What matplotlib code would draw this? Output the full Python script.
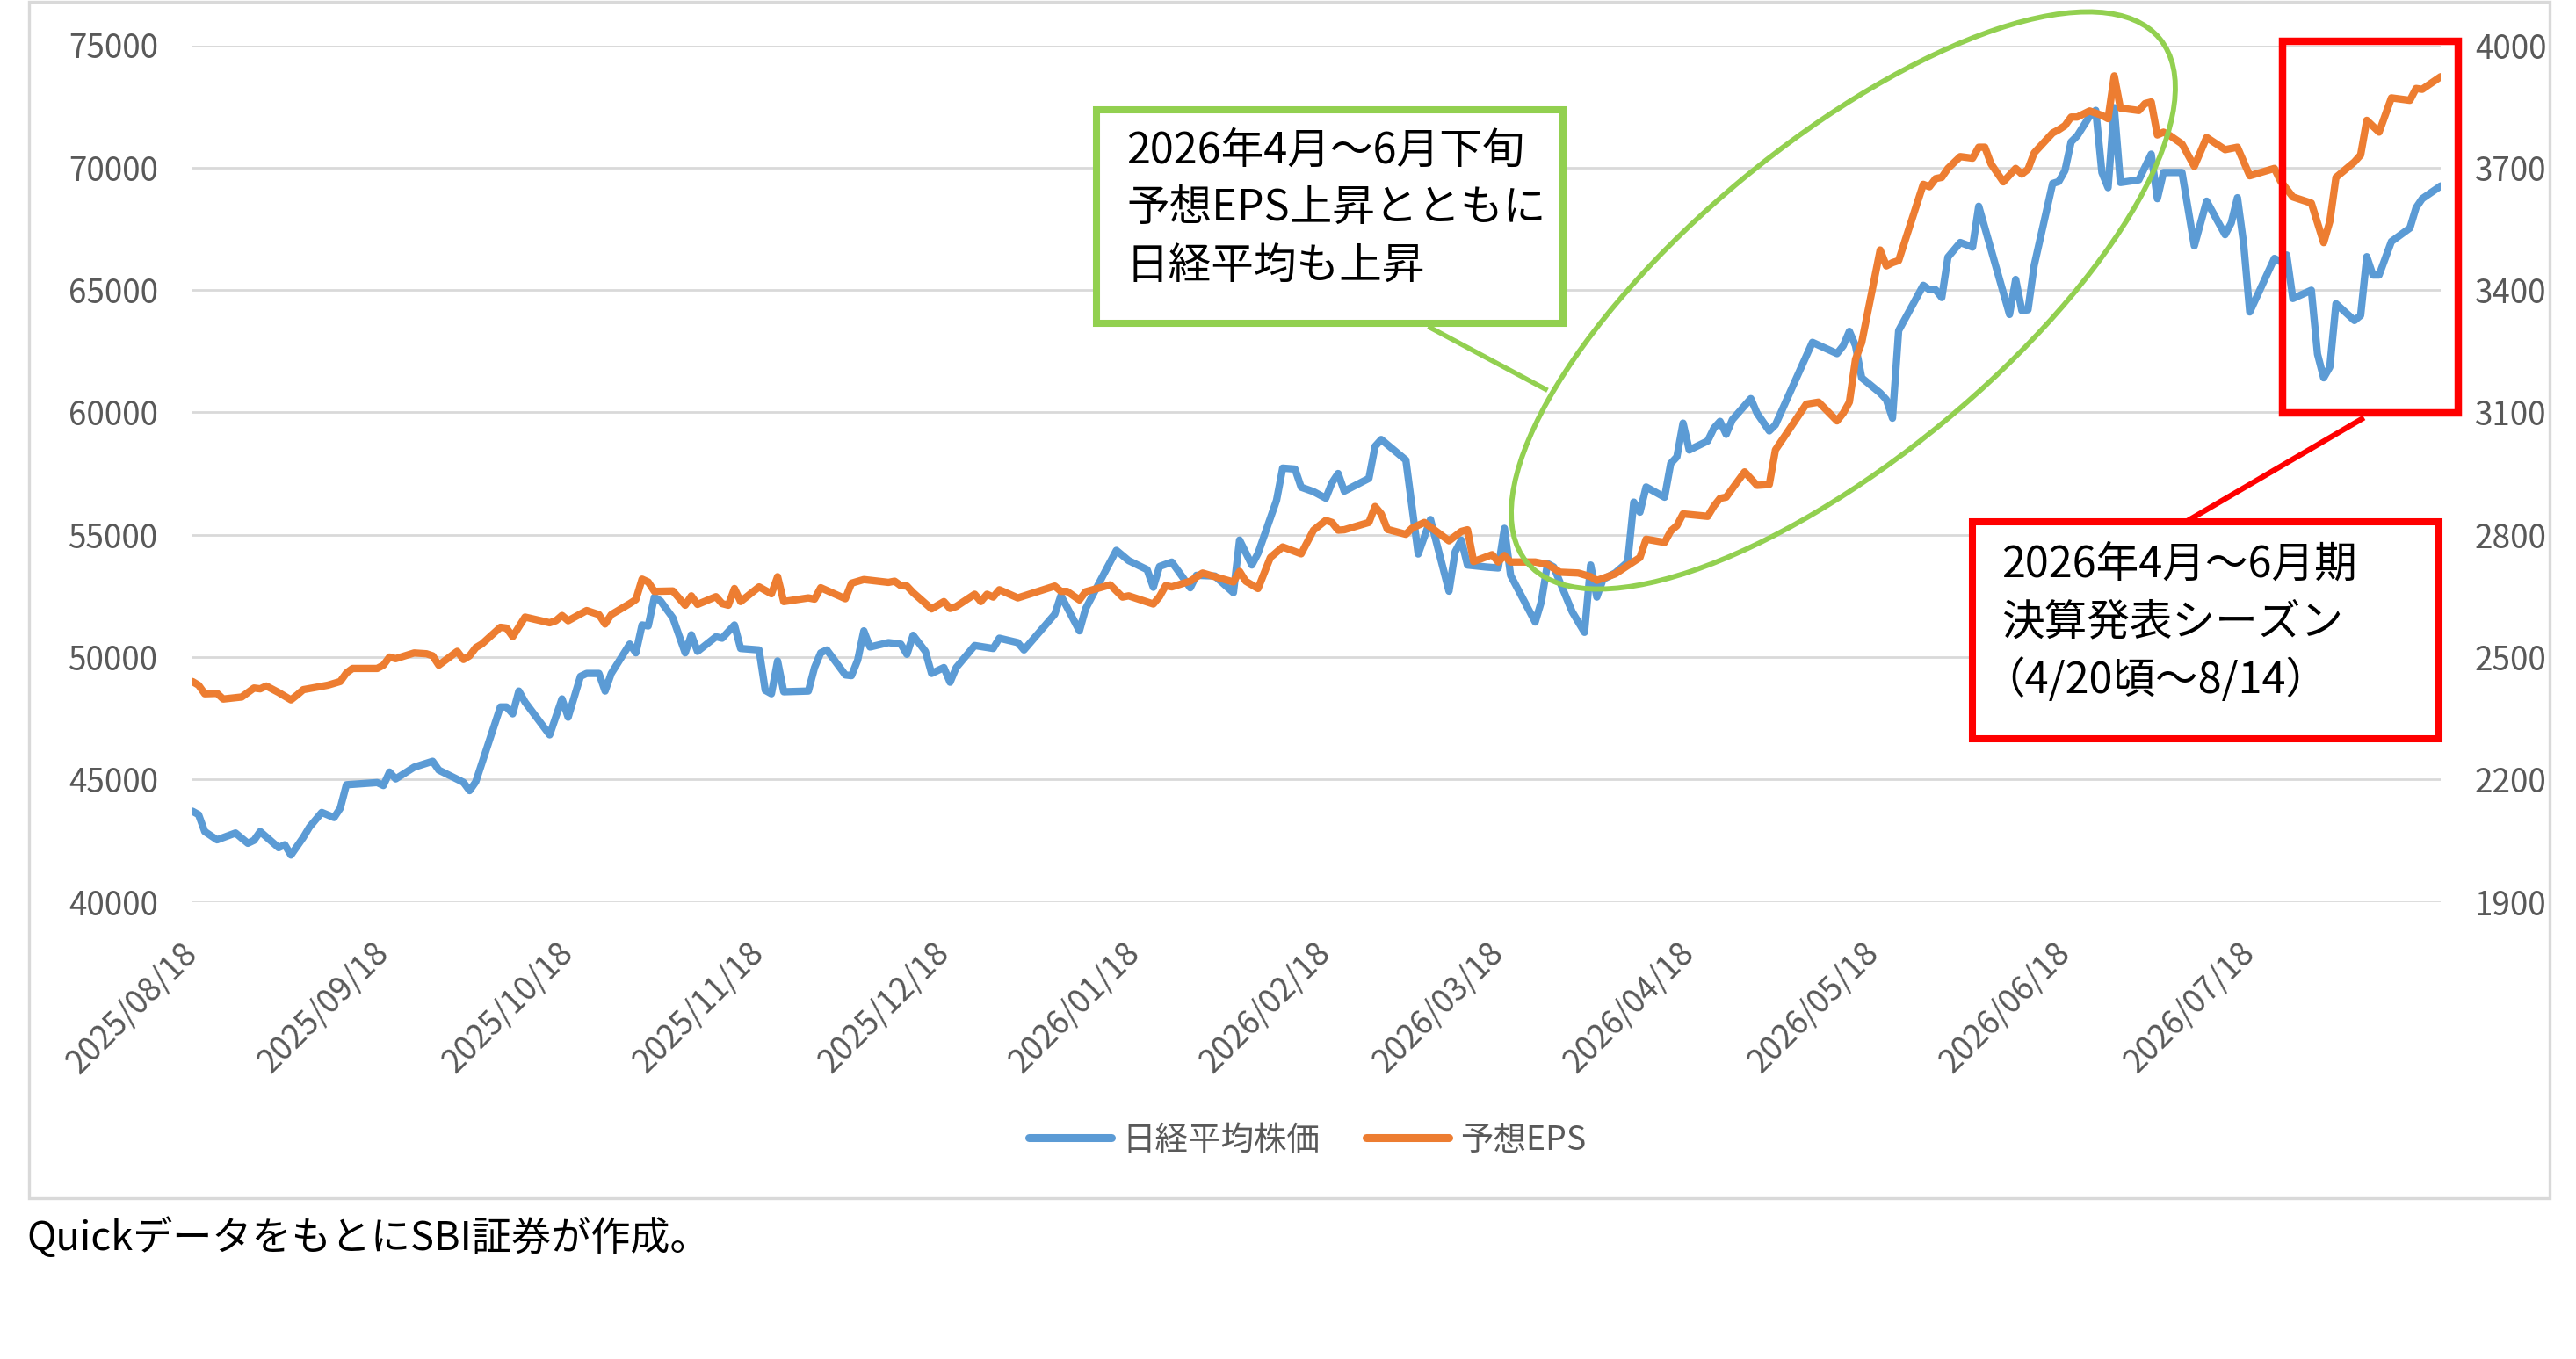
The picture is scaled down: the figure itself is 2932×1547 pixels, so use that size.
import pandas as pd
import matplotlib
matplotlib.use("Agg")
import matplotlib.pyplot as plt
from matplotlib.patches import Ellipse, Rectangle
from matplotlib.lines import Line2D

plt.rcParams['font.family'] = ['Noto Sans CJK JP', 'DejaVu Sans']

# 日経平均株価 (左軸)
nikkei_dates = [
    '2025-08-18', '2025-08-19', '2025-08-20', '2025-08-22', '2025-08-25', '2025-08-27', '2025-08-28', '2025-08-29',
    '2025-09-01', '2025-09-02', '2025-09-03', '2025-09-05', '2025-09-06', '2025-09-08', '2025-09-10', '2025-09-11',
    '2025-09-12', '2025-09-17', '2025-09-18', '2025-09-19', '2025-09-20', '2025-09-23', '2025-09-26', '2025-09-27',
    '2025-10-01', '2025-10-02', '2025-10-03', '2025-10-07', '2025-10-08', '2025-10-09', '2025-10-10', '2025-10-11',
    '2025-10-15', '2025-10-17', '2025-10-18', '2025-10-20', '2025-10-21', '2025-10-23', '2025-10-24', '2025-10-25',
    '2025-10-28', '2025-10-29', '2025-10-30', '2025-10-31', '2025-11-01', '2025-11-02', '2025-11-04', '2025-11-06',
    '2025-11-07', '2025-11-08', '2025-11-11', '2025-11-12', '2025-11-14', '2025-11-15', '2025-11-18', '2025-11-19',
    '2025-11-20', '2025-11-21', '2025-11-22', '2025-11-26', '2025-11-27', '2025-11-28', '2025-11-29', '2025-12-02',
    '2025-12-03', '2025-12-04', '2025-12-05', '2025-12-06', '2025-12-09', '2025-12-11', '2025-12-12', '2025-12-13',
    '2025-12-15', '2025-12-16', '2025-12-18', '2025-12-19', '2025-12-20', '2025-12-23', '2025-12-24', '2025-12-26',
    '2025-12-27', '2025-12-30', '2025-12-31', '2026-01-05', '2026-01-06', '2026-01-09', '2026-01-10', '2026-01-13',
    '2026-01-15', '2026-01-17', '2026-01-20', '2026-01-21', '2026-01-22', '2026-01-24', '2026-01-27', '2026-01-28',
    '2026-01-31', '2026-02-03', '2026-02-04', '2026-02-06', '2026-02-07', '2026-02-10', '2026-02-11', '2026-02-13',
    '2026-02-14', '2026-02-16', '2026-02-18', '2026-02-19', '2026-02-20', '2026-02-21', '2026-02-25', '2026-02-26',
    '2026-02-27', '2026-03-03', '2026-03-05', '2026-03-07', '2026-03-10', '2026-03-11', '2026-03-12', '2026-03-13',
    '2026-03-16', '2026-03-18', '2026-03-19', '2026-03-20', '2026-03-24', '2026-03-25', '2026-03-26', '2026-03-27',
    '2026-03-30', '2026-04-01', '2026-04-02', '2026-04-03', '2026-04-04', '2026-04-06', '2026-04-08', '2026-04-09',
    '2026-04-10', '2026-04-11', '2026-04-14', '2026-04-15', '2026-04-16', '2026-04-17', '2026-04-18', '2026-04-21',
    '2026-04-22', '2026-04-23', '2026-04-24', '2026-04-25', '2026-04-28', '2026-04-29', '2026-05-01', '2026-05-02',
    '2026-05-08', '2026-05-12', '2026-05-13', '2026-05-14', '2026-05-15', '2026-05-16', '2026-05-19', '2026-05-20',
    '2026-05-21', '2026-05-22', '2026-05-26', '2026-05-27', '2026-05-28', '2026-05-29', '2026-05-30', '2026-06-01',
    '2026-06-03', '2026-06-04', '2026-06-09', '2026-06-10', '2026-06-11', '2026-06-12', '2026-06-13', '2026-06-16',
    '2026-06-17', '2026-06-18', '2026-06-19', '2026-06-20', '2026-06-22', '2026-06-23', '2026-06-24', '2026-06-25',
    '2026-06-26', '2026-06-27', '2026-06-30', '2026-07-02', '2026-07-03', '2026-07-04', '2026-07-07', '2026-07-09',
    '2026-07-11', '2026-07-14', '2026-07-15', '2026-07-16', '2026-07-17', '2026-07-18', '2026-07-22', '2026-07-23',
    '2026-07-24', '2026-07-25', '2026-07-28', '2026-07-29', '2026-07-30', '2026-07-31', '2026-08-01', '2026-08-04',
    '2026-08-05', '2026-08-06', '2026-08-07', '2026-08-08', '2026-08-10', '2026-08-13', '2026-08-14', '2026-08-15',
    '2026-08-18',
]
nikkei = [
    43700, 43560, 42870, 42530, 42810, 42390, 42510, 42870,
    42210, 42330, 41910, 42630, 43050, 43650, 43440, 43820,
    44780, 44870, 44750, 45300, 45020, 45500, 45740, 45380,
    44880, 44540, 44900, 47960, 47960, 47680, 48610, 48160,
    46820, 48290, 47540, 49210, 49330, 49330, 48610, 49330,
    50530, 50170, 51310, 51270, 52450, 52290, 51600, 50170,
    50910, 50230, 50830, 50770, 51310, 50350, 50290, 48640,
    48500, 49840, 48580, 48610, 49570, 50170, 50290, 49270,
    49240, 49870, 51070, 50410, 50590, 50530, 50110, 50890,
    50230, 49330, 49570, 48970, 49570, 50470, 50430, 50350,
    50770, 50590, 50290, 51750, 52510, 51070, 51970, 53410,
    54360, 53940, 53570, 52850, 53700, 53880, 52830, 53340,
    53310, 52630, 54780, 53760, 54240, 56400, 57720, 57680,
    56940, 56760, 56490, 57120, 57500, 56780, 57300, 58610,
    58890, 58050, 54210, 55620, 52690, 54300, 54780, 53760,
    53680, 53640, 55260, 53340, 51430, 52270, 53820, 53680,
    51850, 51010, 53760, 52450, 53170, 53440, 53880, 56330,
    55920, 56950, 56530, 57910, 58180, 59560, 58460, 58830,
    59350, 59630, 59100, 59700, 60560, 59970, 59240, 59490,
    62860, 62400, 62720, 63310, 62720, 61410, 60790, 60520,
    59760, 63340, 65190, 65010, 65010, 64690, 66340, 66940,
    66750, 68420, 64000, 65430, 64160, 64190, 66000, 69350,
    69430, 69880, 71050, 71300, 72100, 72340, 69800, 69180,
    72450, 69390, 69500, 70550, 68730, 69800, 69800, 66800,
    68630, 67260, 67740, 68770, 66910, 64100, 66290, 66160,
    66430, 64650, 64990, 62380, 61410, 61850, 64440, 63750,
    63960, 66360, 65610, 65610, 66980, 67530, 68360, 68730,
    69250,
]

# 予想EPS (右軸)
eps_dates = [
    '2025-08-18', '2025-08-19', '2025-08-20', '2025-08-22', '2025-08-23', '2025-08-26', '2025-08-28', '2025-08-29',
    '2025-08-30', '2025-09-01', '2025-09-03', '2025-09-04', '2025-09-05', '2025-09-09', '2025-09-11', '2025-09-12',
    '2025-09-13', '2025-09-17', '2025-09-18', '2025-09-19', '2025-09-20', '2025-09-23', '2025-09-25', '2025-09-26',
    '2025-09-27', '2025-09-30', '2025-10-01', '2025-10-02', '2025-10-03', '2025-10-04', '2025-10-07', '2025-10-08',
    '2025-10-09', '2025-10-11', '2025-10-15', '2025-10-16', '2025-10-17', '2025-10-18', '2025-10-21', '2025-10-23',
    '2025-10-24', '2025-10-25', '2025-10-28', '2025-10-29', '2025-10-30', '2025-10-31', '2025-11-01', '2025-11-04',
    '2025-11-06', '2025-11-07', '2025-11-08', '2025-11-11', '2025-11-12', '2025-11-13', '2025-11-14', '2025-11-15',
    '2025-11-18', '2025-11-20', '2025-11-21', '2025-11-22', '2025-11-26', '2025-11-27', '2025-11-28', '2025-12-02',
    '2025-12-03', '2025-12-05', '2025-12-09', '2025-12-10', '2025-12-11', '2025-12-12', '2025-12-13', '2025-12-16',
    '2025-12-18', '2025-12-19', '2025-12-20', '2025-12-23', '2025-12-24', '2025-12-25', '2025-12-26', '2025-12-27',
    '2025-12-30', '2026-01-05', '2026-01-06', '2026-01-07', '2026-01-09', '2026-01-10', '2026-01-14', '2026-01-16',
    '2026-01-17', '2026-01-21', '2026-01-22', '2026-01-23', '2026-01-24', '2026-01-27', '2026-01-29', '2026-01-31',
    '2026-02-03', '2026-02-04', '2026-02-05', '2026-02-07', '2026-02-09', '2026-02-11', '2026-02-14', '2026-02-16',
    '2026-02-18', '2026-02-19', '2026-02-20', '2026-02-21', '2026-02-25', '2026-02-26', '2026-02-27', '2026-02-28',
    '2026-03-03', '2026-03-04', '2026-03-06', '2026-03-10', '2026-03-12', '2026-03-13', '2026-03-14', '2026-03-17',
    '2026-03-18', '2026-03-19', '2026-03-20', '2026-03-24', '2026-03-26', '2026-03-28', '2026-03-31', '2026-04-02',
    '2026-04-03', '2026-04-04', '2026-04-06', '2026-04-10', '2026-04-11', '2026-04-14', '2026-04-15', '2026-04-16',
    '2026-04-17', '2026-04-21', '2026-04-22', '2026-04-23', '2026-04-24', '2026-04-25', '2026-04-27', '2026-04-29',
    '2026-05-01', '2026-05-02', '2026-05-07', '2026-05-09', '2026-05-12', '2026-05-13', '2026-05-14', '2026-05-15',
    '2026-05-16', '2026-05-19', '2026-05-20', '2026-05-21', '2026-05-22', '2026-05-23', '2026-05-26', '2026-05-27',
    '2026-05-28', '2026-05-29', '2026-05-30', '2026-06-01', '2026-06-03', '2026-06-04', '2026-06-05', '2026-06-06',
    '2026-06-08', '2026-06-10', '2026-06-11', '2026-06-12', '2026-06-13', '2026-06-16', '2026-06-17', '2026-06-18',
    '2026-06-19', '2026-06-20', '2026-06-22', '2026-06-24', '2026-06-25', '2026-06-26', '2026-06-27', '2026-06-30',
    '2026-07-01', '2026-07-02', '2026-07-03', '2026-07-04', '2026-07-05', '2026-07-07', '2026-07-09', '2026-07-11',
    '2026-07-14', '2026-07-16', '2026-07-18', '2026-07-22', '2026-07-23', '2026-07-25', '2026-07-28', '2026-07-30',
    '2026-07-31', '2026-08-01', '2026-08-04', '2026-08-05', '2026-08-06', '2026-08-08', '2026-08-10', '2026-08-13',
    '2026-08-14', '2026-08-15', '2026-08-18',
]
eps = [
    2440, 2431, 2410, 2411, 2397, 2402, 2424, 2422,
    2429, 2413, 2395, 2407, 2420, 2431, 2440, 2461,
    2472, 2472, 2480, 2500, 2496, 2510, 2508, 2503,
    2480, 2514, 2494, 2503, 2523, 2532, 2573, 2571,
    2550, 2598, 2584, 2589, 2602, 2589, 2614, 2604,
    2581, 2604, 2631, 2641, 2691, 2684, 2661, 2662,
    2627, 2650, 2629, 2648, 2631, 2627, 2668, 2636,
    2672, 2655, 2697, 2636, 2645, 2642, 2670, 2643,
    2681, 2690, 2683, 2686, 2675, 2674, 2658, 2618,
    2636, 2619, 2624, 2654, 2636, 2654, 2647, 2665,
    2645, 2674, 2661, 2661, 2640, 2660, 2677, 2647,
    2650, 2630, 2648, 2675, 2672, 2686, 2706, 2697,
    2684, 2710, 2686, 2668, 2744, 2770, 2753, 2811,
    2835, 2830, 2811, 2812, 2830, 2869, 2851, 2813,
    2801, 2816, 2830, 2785, 2808, 2812, 2734, 2751,
    2733, 2749, 2733, 2733, 2727, 2708, 2706, 2697,
    2688, 2693, 2704, 2744, 2789, 2781, 2809, 2822,
    2851, 2845, 2870, 2889, 2892, 2913, 2954, 2921,
    2923, 3008, 3120, 3125, 3079, 3098, 3125, 3230,
    3271, 3498, 3459, 3467, 3472, 3519, 3659, 3653,
    3673, 3676, 3698, 3727, 3723, 3750, 3750, 3709,
    3665, 3698, 3684, 3696, 3736, 3785, 3793, 3803,
    3824, 3824, 3839, 3828, 3820, 3925, 3846, 3840,
    3857, 3861, 3780, 3787, 3779, 3758, 3703, 3774,
    3744, 3750, 3680, 3698, 3667, 3628, 3613, 3516,
    3568, 3676, 3714, 3731, 3816, 3787, 3871, 3865,
    3894, 3892, 3923,
]

tick_dates = ['2025-08-18', '2025-09-18', '2025-10-18', '2025-11-18', '2025-12-18', '2026-01-18',
              '2026-02-18', '2026-03-18', '2026-04-18', '2026-05-18', '2026-06-18', '2026-07-18']
tick_labels = ['2025/08/18', '2025/09/18', '2025/10/18', '2025/11/18', '2025/12/18', '2026/01/18',
               '2026/02/18', '2026/03/18', '2026/04/18', '2026/05/18', '2026/06/18', '2026/07/18']
left_ticks = [40000, 45000, 50000, 55000, 60000, 65000, 70000, 75000]
right_ticks = [1900, 2200, 2500, 2800, 3100, 3400, 3700, 4000]

BLUE = '#5B9BD5'
ORANGE = '#ED7D31'
GREEN = '#92D050'
RED = '#FF0000'
GRID = '#D9D9D9'
GRAY = '#595959'

W, H = 2932, 1547
fig = plt.figure(figsize=(W / 100, H / 100), dpi=100)
ax = fig.add_axes([219 / W, 1 - 1026.5 / H, (2778 - 219) / W, (1026.5 - 51.5) / H])
ax2 = ax.twinx()

ax.plot(pd.to_datetime(nikkei_dates), nikkei, color=BLUE, lw=6,
        solid_joinstyle='round', solid_capstyle='round')
ax2.plot(pd.to_datetime(eps_dates), eps, color=ORANGE, lw=6,
         solid_joinstyle='round', solid_capstyle='round')

ax.set_xlim(pd.Timestamp(nikkei_dates[0]), pd.Timestamp(nikkei_dates[-1]))
ax.set_ylim(left_ticks[0], left_ticks[-1])
ax.set_yticks(left_ticks)
ax2.set_ylim(right_ticks[0], right_ticks[-1])
ax2.set_yticks(right_ticks)
ax.set_xticks(pd.to_datetime(tick_dates))
ax.set_xticklabels(tick_labels, rotation=45, ha='right', va='center', rotation_mode='anchor')

ax.tick_params(axis='x', length=0, pad=38, labelsize=26.5, labelcolor=GRAY)
ax.tick_params(axis='y', length=0, pad=28, labelsize=26.5, labelcolor=GRAY)
ax2.tick_params(axis='y', length=0, pad=28, labelsize=26.5, labelcolor=GRAY)
ax.yaxis.grid(True, color=GRID, lw=2)
ax.set_axisbelow(True)
for a in (ax, ax2):
    for s in a.spines.values():
        s.set_visible(False)

# 注記は画像ピクセル位置 (上から) をインチに直して置く
tr = fig.dpi_scale_trans


def P(x, y):
    return (x / 100, (H - y) / 100)


# グラフ枠
fig.add_artist(Rectangle(P(33, 1364), (2902 - 33) / 100, (1364 - 2) / 100, transform=tr,
                         fill=False, ec=GRID, lw=2.4))

# 緑の楕円と吹き出し
fig.add_artist(Ellipse(P(2098, 342), 9.35, 3.59, angle=39.6, transform=tr,
                       fill=False, ec=GREEN, lw=4.2))
x0, y0 = P(1628, 373)
x1, y1 = P(1759, 443)
fig.add_artist(Line2D([x0, x1], [y0, y1], transform=tr, color=GREEN, lw=4))
fig.add_artist(Rectangle(P(1248, 367.8), 5.305, 2.431, transform=tr,
                         fc='white', ec=GREEN, lw=5.8, joinstyle='miter'))
green_lines = ['2026年4月～6月下旬', '予想EPS上昇とともに', '日経平均も上昇']
for i, t in enumerate(green_lines):
    fig.text(*P(1282, 172 + 65.5 * i), t, transform=tr, fontsize=35, color='black',
             ha='left', va='center')

# 赤枠と吹き出し
fig.add_artist(Rectangle(P(2597.5, 470), 2.005, 4.23, transform=tr,
                         fill=False, ec=RED, lw=6.1, joinstyle='miter'))
x0, y0 = P(2493, 591)
x1, y1 = P(2688, 477)
fig.add_artist(Line2D([x0, x1], [y0, y1], transform=tr, color=RED, lw=4.5))
fig.add_artist(Rectangle(P(2244.7, 841), 5.313, 2.47, transform=tr,
                         fc='white', ec=RED, lw=5.8, joinstyle='miter'))
red_lines = ['2026年4月～6月期', '決算発表シーズン', '（4/20頃～8/14）']
for i, t in enumerate(red_lines):
    dx = -22 if t.startswith('（') else 0
    fig.text(*P(2278 + dx, 643 + 66 * i), t, transform=tr, fontsize=35, color='black',
             ha='left', va='center')

# 凡例
handles = [Line2D([], [], color=BLUE, lw=6.5, solid_capstyle='round'),
           Line2D([], [], color=ORANGE, lw=6.5, solid_capstyle='round')]
fig.legend(handles, ['日経平均株価', '予想EPS'], loc='center',
           bbox_to_anchor=(1488 / W, 1 - 1298 / H), ncol=2, frameon=False,
           fontsize=27, handlelength=2.5, handletextpad=0.35, columnspacing=1.4,
           labelcolor=GRAY)

fig.text(*P(30, 1410), 'QuickデータをもとにSBI証券が作成。', transform=tr,
         fontsize=32.5, color='black', ha='left', va='center')

fig.savefig('out.png', dpi=100)
